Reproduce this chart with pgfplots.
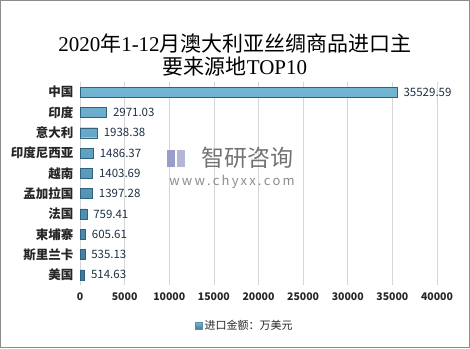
\documentclass[border=0pt]{standalone}
\usepackage{pgfplots}
\pgfplotsset{compat=1.18}
\usepackage{fontspec}
\setmainfont{Noto Sans CJK SC}
\newfontfamily\tl{Liberation Serif}
\definecolor{bartop}{HTML}{72B6D4}
\definecolor{barbot}{HTML}{3C7A9C}
\definecolor{lbl}{HTML}{1F2F45}
\definecolor{txt}{HTML}{262626}
\begin{document}
\begin{tikzpicture}[x=1pt,y=1pt]
\draw[draw=black!45, line width=1.3pt] (0.65,0.65) rectangle (469.35,347.35);
\node[font=\fontsize{21}{22.5}\selectfont, align=center, text=black] at (235,293) {{\tl 2020}年{\tl 1-12}月澳大利亚丝绸商品进口主\\要来源地{\tl TOP10}};
\begin{axis}[
  at={(80pt,63pt)}, anchor=south west,
  scale only axis, width=357pt, height=203pt,
  xbar, bar width=10pt,
  xmin=0, xmax=40000, ymin=-0.5, ymax=9.5,
  xtick={0,5000,...,40000},
  scaled x ticks=false,
  ytick={0,...,9},
  yticklabels={美国,斯里兰卡,柬埔寨,法国,孟加拉国,越南,印度尼西亚,意大利,印度,中国},
  xmajorgrids, grid style={draw=black!16, line width=0.6pt},
  axis line style={draw=none},
  major tick length=0pt,
  /pgf/number format/assume math mode=true,
  /pgf/number format/1000 sep={},
  xticklabel style={font=\bfseries\fontsize{10.5}{12}\selectfont, text=txt, yshift=-4pt},
  yticklabel style={font=\bfseries\fontsize{12.5}{14}\selectfont, text=txt, xshift=-3pt},
  nodes near coords,
  nodes near coords style={font=\fontsize{11.5}{12}\selectfont, text=lbl, anchor=west, xshift=3pt,
     /pgf/number format/fixed, /pgf/number format/fixed zerofill, /pgf/number format/precision=2,
     /pgf/number format/1000 sep={}, /pgf/number format/assume math mode=true},
  legend style={at={(0.462,-0.202)}, anchor=center, draw=none, fill=none,
     font=\fontsize{11}{12}\selectfont, text=txt},
  legend image code/.code={\fill[barbot!85] (0pt,-3.5pt) rectangle (7pt,3.5pt);},
  clip=false,
]
\addplot[draw=barbot!80!black, line width=0.3pt, top color=bartop, bottom color=barbot] coordinates {
(35529.59,9) (2971.03,8) (1938.38,7) (1486.37,6) (1403.69,5) (1397.28,4) (759.41,3) (605.61,2) (535.13,1) (514.63,0)};
\addlegendentry{进口金额：万美元}
\end{axis}
\node[font=\fontsize{23}{26}\selectfont, text=black!55] at (247,190) {智研咨询};
\fill[blue!30!gray!60] (167,181) rectangle (175,198);
\fill[blue!30!gray!45] (177,181) rectangle (185,198);
\node[font=\fontsize{13}{15}\selectfont, text=black!45] at (232,166) {w\,w\,w\,.\,c\,h\,y\,x\,x\,.\,c\,o\,m};
\end{tikzpicture}
\end{document}
